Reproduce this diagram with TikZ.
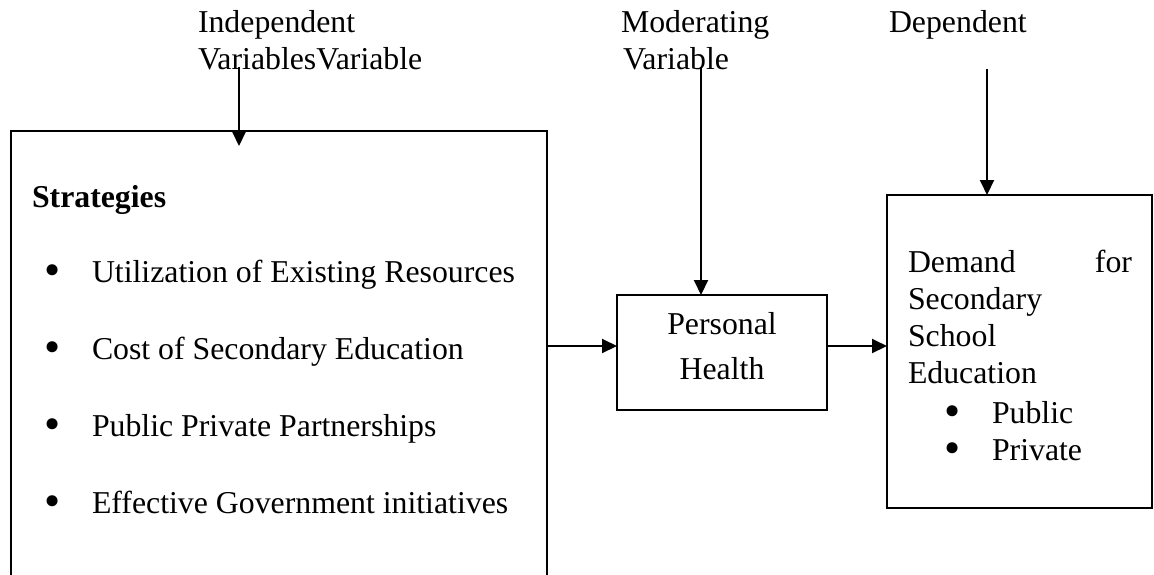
\documentclass[tikz,border=0pt]{standalone}
\usepackage{fontspec}
\setmainfont{Liberation Serif}
\usetikzlibrary{arrows.meta}

% list bullet, enlarged and kept centred on the x-height (no extra line height)
\newcommand{\listdot}{\raisebox{-3.5pt}[0pt][0pt]{\scalebox{1.45}{\textbullet}}}

\begin{document}
\begin{tikzpicture}[x=1pt, y=-1pt,
  box/.style={draw, line width=2pt, inner sep=0pt, outer sep=0pt, anchor=north west},
  lbl/.style={inner sep=0pt, outer sep=0pt, anchor=base west, font=\fontsize{31.8}{37}\selectfont},
  arr/.style={line width=2pt, -{Triangle[length=15pt, width=14pt]}}]

\useasboundingbox (0,0) rectangle (1154,574);
\clip (0,0) rectangle (1154,574);

% boxes
\node[box, minimum width=536pt, minimum height=480pt] (strat) at (11,131) {};
\node[box, minimum width=210pt, minimum height=115pt] (ph) at (617,295) {};
\node[box, minimum width=265pt, minimum height=313pt] (dem) at (887,195) {};

% column headings
\node[lbl] (indep) at (198,32) {\parbox[t]{300pt}{Independent\\VariablesVariable}};
\node[lbl] (moder) at (621,32) {\parbox[t]{200pt}{Moderating\\\hspace*{2pt}Variable}};
\node[lbl] (depen) at (889,32) {Dependent};

% strategies box contents
\node[lbl, font=\fontsize{31.8}{37}\selectfont\bfseries] (sttitle) at (32,207) {Strategies};
\node[lbl, font=\fontsize{31.8}{77}\selectfont] (stlist) at (44,282) {\parbox[t]{480pt}{%
  \makebox[48pt][l]{\listdot}Utilization of Existing Resources\\
  \makebox[48pt][l]{\listdot}Cost of Secondary Education\\
  \makebox[48pt][l]{\listdot}Public Private Partnerships\\
  \makebox[48pt][l]{\listdot}Effective Government initiatives}};

% moderating box text
\node[lbl, anchor=base, font=\fontsize{31.8}{45}\selectfont] (phtext) at (722,334)
  {\parbox[t]{200pt}{\centering Personal\\Health}};

% dependent box text
\node[lbl] (demtext) at (908,272) {\parbox[t]{224pt}{%
  Demand\hfill for\\
  Secondary\\
  School\\
  Education\\[3pt]
  \makebox[84pt][l]{\hspace*{36pt}\listdot}Public\\
  \makebox[84pt][l]{\hspace*{36pt}\listdot}Private}};

% connectors
\coordinate (ivs) at (239,67);
\coordinate (ive) at (239,146);
\coordinate (mvs) at (701,67);
\coordinate (dvs) at (987,69);
\coordinate (hy) at (0,346);

\draw[arr] (ivs) -- (ive);
\draw[arr] (mvs) -- (mvs |- ph.north);
\draw[arr] (dvs) -- (dvs |- dem.north);
\draw[arr] (strat.east |- hy) -- (ph.west |- hy);
\draw[arr] (ph.east |- hy) -- (dem.west |- hy);

\end{tikzpicture}
\end{document}
